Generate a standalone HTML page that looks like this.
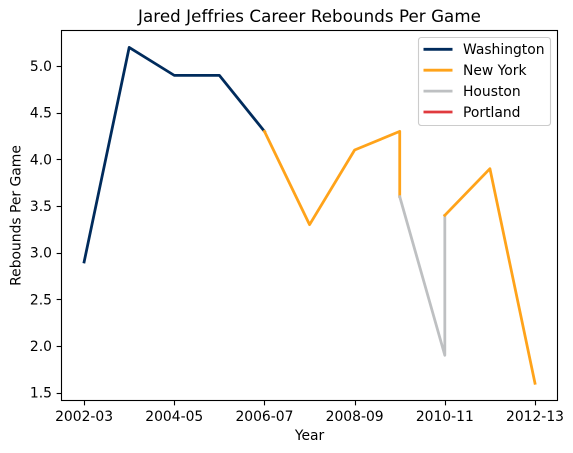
<!DOCTYPE html>
<html lang="en">
<head>
<meta charset="utf-8">
<title>Jared Jeffries Career Rebounds Per Game</title>
<style>
html,body{margin:0;padding:0;background:#fff;width:573px;height:453px;overflow:hidden}
svg{display:block}
text{font-family:"DejaVu Sans",sans-serif;fill:#000;font-size:13.89px}
</style>
</head>
<body>
<svg id="chart" width="573" height="453" viewBox="0 0 573 453" xmlns="http://www.w3.org/2000/svg"></svg>
<script>
const categories = ["2002-03","2003-04","2004-05","2005-06","2006-07","2007-08","2008-09","2009-10","2010-11","2011-12","2012-13"];
const xTickLabels = ["2002-03","2004-05","2006-07","2008-09","2010-11","2012-13"];
const yTickValues = [1.5,2.0,2.5,3.0,3.5,4.0,4.5,5.0];
const washingtonSeasons = ["2002-03","2003-04","2004-05","2005-06","2006-07"];
const washingtonValues = [2.9,5.2,4.9,4.9,4.3];
const newYorkSeasons = ["2006-07","2007-08","2008-09","2009-10","2009-10"];
const newYorkValues = [4.3,3.3,4.1,4.3,3.6];
const houstonSeasons = ["2009-10","2010-11","2010-11"];
const houstonValues = [3.6,1.9,3.4];
const newYorkLateSeasons = ["2010-11","2011-12","2012-13"];
const newYorkLateValues = [3.4,3.9,1.6];
const legendLabels = ["Washington","New York","Houston","Portland"];
const legendColors = ["#002b5c","#ffa31a","#bec0c2","#e03a3e"];

const NS = "http://www.w3.org/2000/svg";
const svg = document.getElementById("chart");
const plot = {left:61.5, right:557.5, top:30.5, bottom:400.5};

function xScale(season){
  return 84.1 + categories.indexOf(season) * 45.09;
}
function yScale(value){
  return 392.6 - (value - 1.5) * 93.3;
}
function make(tag, attrs, text){
  const el = document.createElementNS(NS, tag);
  for (const k in attrs) el.setAttribute(k, attrs[k]);
  if (text !== undefined) el.textContent = text;
  svg.appendChild(el);
  return el;
}

function drawSeries(seasons, values, color, name){
  const pts = seasons.map((s,i)=>xScale(s).toFixed(2)+","+yScale(values[i]).toFixed(2)).join(" ");
  const line = make("polyline",{points:pts,fill:"none",stroke:color,"stroke-width":2.78,"stroke-linejoin":"round","stroke-linecap":"square"});
  
  
}

drawSeries(washingtonSeasons, washingtonValues, legendColors[0], "washington-line");
drawSeries(newYorkSeasons, newYorkValues, legendColors[1], "new-york-line-early");
drawSeries(houstonSeasons, houstonValues, legendColors[2], "houston-line");
drawSeries(newYorkLateSeasons, newYorkLateValues, legendColors[1], "new-york-line-late");

const frame = make("rect",{x:plot.left,y:plot.top,width:plot.right-plot.left,height:plot.bottom-plot.top,fill:"none",stroke:"#000","stroke-width":1.11});



xTickLabels.forEach(label=>{
  const x = Math.round(xScale(label)) + 0.5;
  const tick = make("line",{x1:x,x2:x,y1:plot.bottom,y2:plot.bottom+4.86,stroke:"#000","stroke-width":1.11});
  
  
  const t = make("text",{x:xScale(label),y:421,"text-anchor":"middle"},label);
  
  
});

yTickValues.forEach(v=>{
  const y = Math.round(yScale(v)) + 0.5;
  const tick = make("line",{x1:plot.left-4.86,x2:plot.left,y1:y,y2:y,stroke:"#000","stroke-width":1.11});
  
  
  const t = make("text",{x:52,y:yScale(v)+5,"text-anchor":"end"},v.toFixed(1));
  
  
});

const title = make("text",{x:309.5,y:22,"text-anchor":"middle",style:"font-size:16.67px;letter-spacing:0.07px"},"Jared Jeffries Career Rebounds Per Game");



const xTitle = make("text",{x:309.5,y:440,"text-anchor":"middle"},"Year");



const yTitle = make("text",{x:0,y:0,"text-anchor":"middle",transform:"translate(20.5,215.5) rotate(-90)"},"Rebounds Per Game");



const legendBox = make("rect",{x:418.5,y:37.5,width:132,height:88,rx:2.8,ry:2.8,fill:"#fff","fill-opacity":0.8,stroke:"#ccc","stroke-width":1.11});



legendLabels.forEach((label,i)=>{
  const y = 49.3 + i * 20.9;
  const handle = make("line",{x1:423.5,x2:452.5,y1:y,y2:y,stroke:legendColors[i],"stroke-width":2.78});
  
  
  const t = make("text",{x:463,y:y+4.8},label);
  
  
});
</script>
</body>
</html>
